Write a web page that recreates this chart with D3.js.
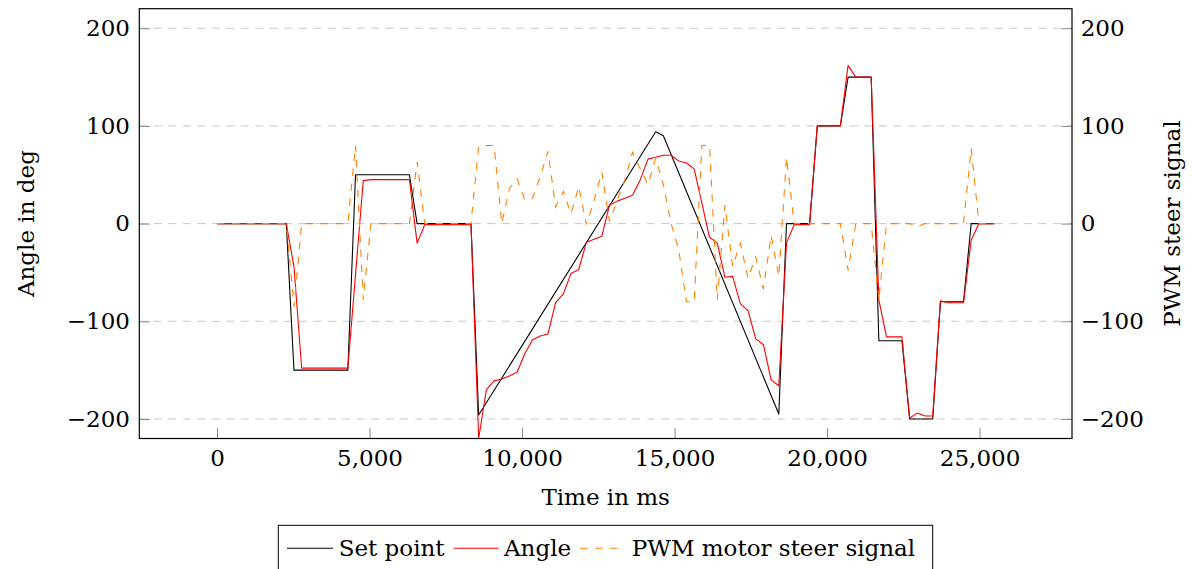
<!DOCTYPE html>
<html><head><meta charset="utf-8">
<script src="https://cdn.jsdelivr.net/npm/d3@7"></script>
<style>
html,body{margin:0;padding:0;background:#fff;}
svg{display:block;font-family:"DejaVu Serif",serif;}
</style></head><body>
<svg id="c" width="1192" height="569"></svg>
<script>
// ---- data ----
const timeMs = [0,252,505,757,1009,1262,1514,1766,2018,2271,2523,2775,3028,3280,3532,3785,4037,4289,4541,4794,
 5046,5298,5551,5803,6055,6308,6560,6812,7064,7317,7569,7821,8074,8326,8578,8831,9083,9335,9587,9840,
 10092,10344,10597,10849,11101,11354,11606,11858,12110,12363,12615,12867,13120,13372,13624,13877,14129,14381,14633,14886,
 15138,15390,15643,15895,16147,16400,16652,16904,17156,17409,17661,17913,18166,18418,18670,18923,19175,19427,19679,19932,
 20184,20436,20689,20941,21193,21446,21698,21950,22202,22455,22707,22959,23212,23464,23716,23969,24221,24473,24725,24978,
 25230,25482];
const setPointTimeMs = [0,2271,2523,4289,4541,6308,6560,8326,8578,14381,14633,18418,18670,19427,19679,20436,20689,21446,21698,22455,22707,23464,23716,24473,24725,25482];
const setPoint =       [0,0,-150,-150,50,50,0,0,-196,94,90,-195,0,0,100,100,150,150,-120,-120,-200,-200,-80,-80,0,0];
const angle = [0,0,0,0,0,0,0,0,0,0,
 -44,-148,-148,-148,-148,-148,-148,-148,-52,44,
 45,45,45,45,45,45,-20,-1,-1,-1,-1,-1,-1,-1,
 -220,-170,-161,-159,-156,-152,-133,-119,-115,-113,-81,-72,-51,-47,-19,-16,-13,
 19,23,26,29,45,66,68,70,70,64,62,56,
 21,-14,-20,-55,-54,-82,-89,-118,-124,-160,-166,
 -20,-1,-1,-1, 100,100,100,100, 162,150,150,150, -78,-116,-116,-116,
 -199,-194,-197,-197, -79,-81,-81,-81, -17,0,0,0];
const pwm = [0,0,0,0,0,0,0,0,0,0,
 -85,0,0,0,0,0,0,0,80,-78,
 0,0,0,0,0,0,63,0,0,0,0,0,0,0,
 79,80,80,0,36,46,24,26,48,74,17,33,10,38,-1,24,53,
 2,24,45,73,56,40,67,40,0,-27,-80,-80,
 80,80,-78,19,-44,-20,-56,-34,-67,-12,-54,
 68,0,0,0, 0,0,0,0, -48,0,0,0, -78,0,0,0,
 0,-3,0,0, 0,0,0,0, 77,0,0,0];
const xTicks = [0,5000,10000,15000,20000,25000];
const yTicks = [-200,-100,0,100,200];
const seriesNames = ["Set point","Angle","PWM motor steer signal"];
const xLabel = "Time in ms", yLabel = "Angle in deg", y2Label = "PWM steer signal";

// ---- layout ----
const L = 139.3, R = 1072, T = 8.7, B = 438.5;
const FS = 23;
const svg = d3.select("#c");
const x = d3.scaleLinear().domain([-2548, 28030]).range([L, R]);
const y = d3.scaleLinear().domain([-220, 220]).range([B, T]);
const y2 = d3.scaleLinear().domain([-220, 220]).range([B, T]);

// grid
svg.append("g").selectAll("line").data(yTicks).join("line")
  .attr("x1", L).attr("x2", R).attr("y1", d => y(d)).attr("y2", d => y(d))
  .attr("stroke", "#c8c8c8").attr("stroke-width", 1).attr("stroke-dasharray", "8,6.5");

function styleAxis(g){
  g.select(".domain").remove();
  g.selectAll(".tick line").attr("stroke", "#8a8a8a").attr("stroke-width", 1);
  g.selectAll("text").attr("font-size", FS).attr("fill", "#000").attr("font-family", '"DejaVu Serif",serif');
}
svg.append("g").attr("transform", `translate(0,${B})`)
  .call(d3.axisBottom(x).tickValues(xTicks).tickFormat(d3.format(",")).tickSizeInner(-10.7).tickSizeOuter(0).tickPadding(11.2))
  .call(styleAxis);
svg.append("g").attr("transform", `translate(${L},0)`)
  .call(d3.axisLeft(y).tickValues(yTicks).tickSizeInner(-10.7).tickSizeOuter(0).tickPadding(9.3))
  .call(styleAxis);
svg.append("g").attr("transform", `translate(${R},0)`)
  .call(d3.axisRight(y2).tickValues(yTicks).tickSizeInner(-10.7).tickSizeOuter(0).tickPadding(8.7))
  .call(styleAxis);

// clip
svg.append("clipPath").attr("id", "clip").append("rect")
  .attr("x", L).attr("y", T).attr("width", R - L).attr("height", B - T);

const line = d3.line().x(d => x(d[0])).y(d => y(d[1]));
const plot = svg.append("g").attr("clip-path", "url(#clip)");
plot.append("path").datum(setPointTimeMs.map((t, i) => [t, setPoint[i]]))
  .attr("d", line).attr("fill", "none").attr("stroke", "#000").attr("stroke-width", 1.1).attr("stroke-linejoin", "round");
plot.append("path").datum(timeMs.map((t, i) => [t, angle[i]]))
  .attr("d", line).attr("fill", "none").attr("stroke", "#ff0000").attr("stroke-width", 1.1).attr("stroke-linejoin", "round");
plot.append("path").datum(timeMs.map((t, i) => [t, pwm[i]]))
  .attr("d", d3.line().x(d => x(d[0])).y(d => y2(d[1])))
  .attr("fill", "none").attr("stroke", "#ff8000").attr("stroke-width", 1.1).attr("stroke-dasharray", "7.5,7.5");

// frame
svg.append("rect").attr("x", L).attr("y", T).attr("width", R - L).attr("height", B - T)
  .attr("fill", "none").attr("stroke", "#000").attr("stroke-width", 1.2);

// axis labels
svg.append("text").attr("x", (L + R) / 2).attr("y", 505).attr("text-anchor", "middle")
  .attr("font-size", FS).text(xLabel);
svg.append("text").attr("transform", `translate(34,${y(0)}) rotate(-90)`).attr("text-anchor", "middle")
  .attr("font-size", FS).text(yLabel);
svg.append("text").attr("transform", `translate(1180,${y(0)}) rotate(-90)`).attr("text-anchor", "middle")
  .attr("font-size", FS).text(y2Label);

// legend
const lg = svg.append("g");
lg.append("rect").attr("x", 278.3).attr("y", 525.3).attr("width", 932.7 - 278.3).attr("height", 60)
  .attr("fill", "#fff").attr("stroke", "#000").attr("stroke-width", 1);
const legendItems = [
  {name: seriesNames[0], color: "#000", dash: null, x0: 287, x1: 333, tx: 338.7},
  {name: seriesNames[1], color: "#ff0000", dash: null, x0: 453.7, x1: 498.8, tx: 504},
  {name: seriesNames[2], color: "#ff8000", dash: "7.5,7.5", x0: 580, x1: 620, tx: 631.8}
];
const ly = 548.3;
legendItems.forEach(it => {
  lg.append("line").attr("x1", it.x0).attr("x2", it.x1).attr("y1", ly).attr("y2", ly)
    .attr("stroke", it.color).attr("stroke-width", 1.1).attr("stroke-dasharray", it.dash);
  lg.append("text").attr("x", it.tx).attr("y", ly + 8).attr("font-size", FS).text(it.name);
});
</script>
</body></html>
